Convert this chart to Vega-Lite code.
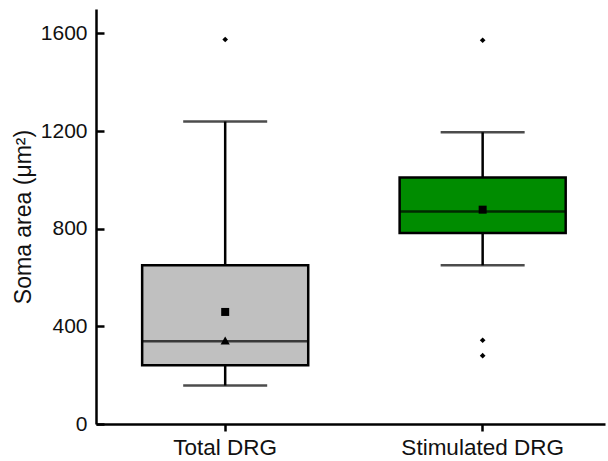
{
  "$schema": "https://vega.github.io/schema/vega-lite/v6.json",
  "width": 509,
  "height": 415,
  "autosize": {"type": "none"},
  "padding": {"left": 96, "top": 9, "right": 3, "bottom": 37},
  "background": "white",
  "config": {
    "view": {"stroke": null},
    "font": "Liberation Sans",
    "axis": {
      "domainColor": "black",
      "domainWidth": 2.5,
      "tickColor": "black",
      "tickWidth": 2.5,
      "grid": false,
      "labelColor": "#111111",
      "titleColor": "#111111",
      "labelFont": "Liberation Sans",
      "titleFont": "Liberation Sans",
      "titleFontWeight": "normal"
    }
  },
  "datasets": {
    "stats": [
      {"group": "Total DRG", "lower": 158, "q1": 241, "median": 339, "q3": 650, "upper": 1239, "mean": 459, "tri": 342},
      {"group": "Stimulated DRG", "lower": 650, "q1": 782, "median": 870, "q3": 1010, "upper": 1195, "mean": 878, "tri": null}
    ],
    "outliers": [
      {"group": "Total DRG", "value": 1575},
      {"group": "Stimulated DRG", "value": 1572},
      {"group": "Stimulated DRG", "value": 343},
      {"group": "Stimulated DRG", "value": 280}
    ]
  },
  "encoding": {
    "x": {
      "field": "group",
      "type": "nominal",
      "sort": ["Total DRG", "Stimulated DRG"],
      "scale": {"paddingInner": 0.355, "paddingOuter": 0.166, "align": 0.54},
      "axis": {
        "title": null,
        "labelAngle": 0,
        "labelFontSize": 22.5,
        "tickSize": 7,
        "labelPadding": 5
      }
    }
  },
  "layer": [
    {
      "data": {"name": "stats"},
      "mark": {"type": "rule", "color": "black", "strokeWidth": 2.5},
      "encoding": {
        "y": {
          "field": "lower",
          "type": "quantitative",
          "scale": {"domain": [0, 1700], "nice": false},
          "axis": {
            "title": "Soma area (μm²)",
            "titleFontSize": 23,
            "titlePadding": 5,
            "labelFontSize": 21,
            "format": "d",
            "values": [0, 400, 800, 1200, 1600],
            "tickSize": -8,
            "labelPadding": 17
          }
        },
        "y2": {"field": "upper"}
      }
    },
    {
      "data": {"name": "stats"},
      "mark": {"type": "tick", "color": "black", "thickness": 2.5, "size": 84},
      "encoding": {"y": {"field": "lower", "type": "quantitative"}}
    },
    {
      "data": {"name": "stats"},
      "mark": {"type": "tick", "color": "black", "thickness": 2.5, "size": 84},
      "encoding": {"y": {"field": "upper", "type": "quantitative"}}
    },
    {
      "data": {"name": "stats"},
      "mark": {"type": "rect", "stroke": "black", "strokeWidth": 2.5},
      "encoding": {
        "y": {"field": "q1", "type": "quantitative"},
        "y2": {"field": "q3"},
        "fill": {
          "field": "group",
          "type": "nominal",
          "scale": {"domain": ["Total DRG", "Stimulated DRG"], "range": ["#c0c0c0", "#008c00"]},
          "legend": null
        }
      }
    },
    {
      "data": {"name": "stats"},
      "mark": {"type": "tick", "color": "black", "thickness": 2.5, "size": 166},
      "encoding": {"y": {"field": "median", "type": "quantitative"}}
    },
    {
      "data": {"name": "stats"},
      "mark": {"type": "point", "shape": "square", "filled": true, "color": "black", "size": 64, "opacity": 1},
      "encoding": {"y": {"field": "mean", "type": "quantitative"}}
    },
    {
      "data": {"name": "stats"},
      "transform": [{"filter": "datum.tri != null"}],
      "mark": {"type": "point", "shape": "triangle-up", "filled": true, "color": "black", "size": 85, "opacity": 1},
      "encoding": {"y": {"field": "tri", "type": "quantitative"}}
    },
    {
      "data": {"name": "outliers"},
      "mark": {"type": "point", "shape": "diamond", "filled": true, "color": "black", "size": 32, "opacity": 1},
      "encoding": {"y": {"field": "value", "type": "quantitative"}}
    }
  ]
}
